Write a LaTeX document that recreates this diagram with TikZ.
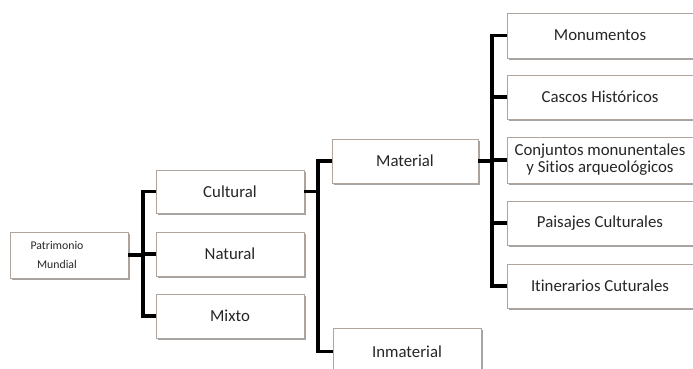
\documentclass[tikz,border=0pt]{standalone}
\usepackage{fontspec}
\setmainfont{Carlito}[Ligatures={NoCommon}]
\usetikzlibrary{shadows}
\definecolor{boxline}{HTML}{ADA59E}
\definecolor{txt}{HTML}{262626}
\tikzset{
  box/.style={draw=boxline, line width=0.9pt, fill=white, minimum height=44pt,
    text=txt, font=\fontsize{16.8}{18}\selectfont, align=center, inner sep=1pt,
    drop shadow={shadow xshift=1.5pt, shadow yshift=-2.2pt, fill=black!45, opacity=0.8}},
  conn/.style={draw=black, line width=3.8pt, line join=miter}
}
\begin{document}
\begin{tikzpicture}[x=1pt,y=-1pt]
\useasboundingbox (0,0) rectangle (693,368);
\fill[white] (0,0) rectangle (693,368);
% nodes
\node[box, minimum width=118pt, minimum height=46pt,
  label={[xshift=-12pt, text=txt, align=center, font=\fontsize{11.8}{19}\selectfont]center:Patrimonio\\Mundial}] (pm) at (69,255) {};
\node[box, minimum width=148pt, minimum height=43pt] (cul) at (230,191.5) {Cultural};
\node[box, minimum width=148pt] (nat) at (230,254) {Natural};
\node[box, minimum width=148pt] (mix) at (230,316) {Mixto};
\node[box, minimum width=146pt] (mat) at (405,161) {Material};
\node[box, minimum width=148pt, minimum height=47pt] (inm) at (407,351.5) {Inmaterial};
\node[box, minimum width=186pt, minimum height=45pt] (mon) at (600,35.5) {Monumentos};
\node[box, minimum width=186pt] (cas) at (600,97) {Cascos Históricos};
\node[box, minimum width=186pt, minimum height=46pt, font=\fontsize{16.8}{17}\selectfont] (con) at (600,160) {Conjuntos monunentales\\y Sitios arqueológicos};
\node[box, minimum width=186pt] (pai) at (600,223) {Paisajes Culturales};
\node[box, minimum width=186pt] (iti) at (600,286) {Itinerarios Cuturales};
% bus coordinates
\coordinate (b1) at (143,0);
\coordinate (b2) at (318,0);
\coordinate (b3) at (492,0);
% connectors level 1
\draw[conn] (pm.east) -- (pm.east -| b1);
\draw[conn] (cul.west) -- (cul.west -| b1) -- (mix.west -| b1) -- (mix.west);
\draw[conn] (nat.west) -- (nat.west -| b1);
% level 2
\draw[conn] (cul.east) -- (cul.east -| b2);
\draw[conn] (mat.west) -- (mat.west -| b2) -- (inm.west -| b2) -- (inm.west);
% level 3
\draw[conn] (mat.east) -- (mat.east -| b3);
\draw[conn] (mon.west) -- (mon.west -| b3) -- (iti.west -| b3) -- (iti.west);
\draw[conn] (cas.west) -- (cas.west -| b3);
\draw[conn] (con.west) -- (con.west -| b3);
\draw[conn] (pai.west) -- (pai.west -| b3);
\end{tikzpicture}
\end{document}
